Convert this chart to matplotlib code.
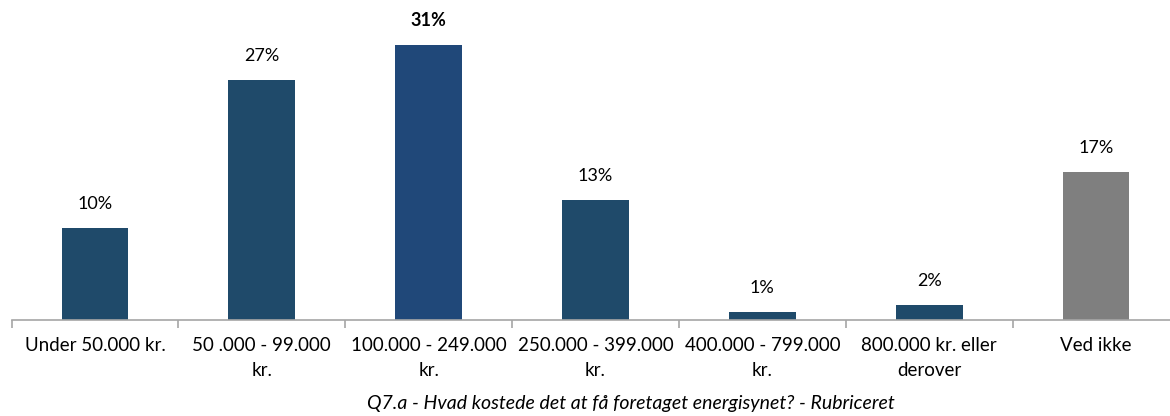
import matplotlib
matplotlib.use("Agg")
import matplotlib.pyplot as plt

categories = ["Under 50.000 kr.", "50 .000 - 99.000\nkr.", "100.000 - 249.000\nkr.",
              "250.000 - 399.000\nkr.", "400.000 - 799.000\nkr.", "800.000 kr. eller\nderover",
              "Ved ikke"]
values = [10.4, 27.0, 31.0, 13.5, 0.9, 1.7, 16.7]
labels = ["10%", "27%", "31%", "13%", "1%", "2%", "17%"]
colors = ["#1F4A6A", "#1F4A6A", "#204879", "#1F4A6A", "#1F4A6A", "#1F4A6A", "#7F7F7F"]
title = "Q7.a - Hvad kostede det at få foretaget energisynet? - Rubriceret"

plt.rcParams['font.family'] = ['Lato', 'DejaVu Sans']

fig = plt.figure(figsize=(11.7, 4.16), dpi=100)
ax = fig.add_axes([11.6/1170, 1-320/416, 1167.8/1170, 315/416])
x = list(range(len(categories)))
ax.bar(x, values, width=0.4, color=colors)
ax.set_xlim(-0.5, len(categories)-0.5)
ax.set_ylim(0, 35.5)
for i, (v, l) in enumerate(zip(values, labels)):
    ax.text(i, v + 1.8, l, ha='center', va='bottom', fontsize=13,
            fontweight='bold' if i == 2 else 'normal', color='#000000')

for s in ['top', 'right', 'left']:
    ax.spines[s].set_visible(False)
ax.spines['bottom'].set_color('#A6A6A6')
ax.spines['bottom'].set_linewidth(1.2)
ax.set_yticks([])
ax.set_xticks([i - 0.5 for i in range(len(categories))], minor=False)
ax.set_xticklabels([])
ax.tick_params(axis='x', which='major', length=6, color='#A6A6A6', width=1.2)
ax.set_xticks(x, minor=True)
ax.set_xticklabels(categories, minor=True, fontsize=13.5, linespacing=1.6)
ax.tick_params(axis='x', which='minor', length=0, pad=12)
fig.text(631/1170, 1-403/416, title, ha='center', va='center', fontsize=14, style='italic')
fig.savefig("out.png", dpi=100)
